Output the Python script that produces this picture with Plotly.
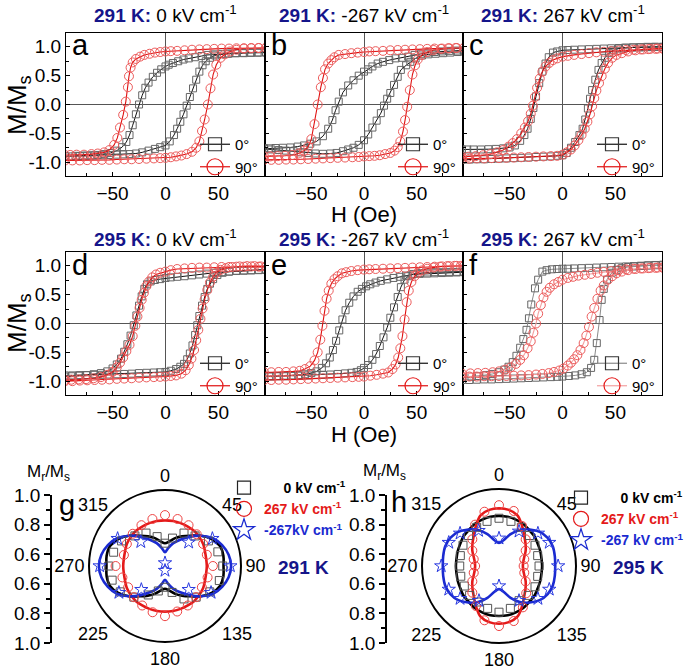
import plotly.graph_objects as go

# ---------------- hysteresis loops: (H [Oe], M/Ms) ----------------
# panel a : 291 K, 0 kV/cm
a_0_down = [(95,0.90),(88,0.90),(81,0.895),(74,0.89),(67,0.89),(60,0.885),(53,0.88),(46,0.87),(40,0.86),(34,0.84),(28,0.82),(22,0.80),(17,0.78),(12,0.75),(7,0.72),(3,0.69),(0,0.66),(-4,0.61),(-8,0.55),(-12,0.48),(-16,0.38),(-19,0.29),(-22,0.16),(-25,0.0),(-28,-0.17),(-31,-0.36),(-34,-0.53),(-37,-0.65),(-41,-0.74),(-46,-0.80),(-52,-0.84),(-58,-0.86),(-64,-0.875),(-71,-0.88),(-78,-0.885),(-85,-0.89),(-95,-0.89)]
a_0_up = [(-95,-0.90),(-88,-0.90),(-81,-0.895),(-74,-0.89),(-67,-0.885),(-60,-0.88),(-53,-0.875),(-46,-0.87),(-40,-0.865),(-34,-0.86),(-28,-0.85),(-22,-0.83),(-16,-0.80),(-10,-0.77),(-5,-0.74),(0,-0.71),(4,-0.64),(8,-0.53),(11,-0.42),(14,-0.30),(17,-0.17),(20,-0.02),(23,0.13),(26,0.28),(29,0.43),(32,0.57),(35,0.68),(38,0.75),(42,0.81),(47,0.85),(53,0.87),(59,0.88),(66,0.89),(73,0.895),(80,0.90),(87,0.90),(95,0.905)]
a_90_down = [(95,0.98),(88,0.98),(81,0.98),(74,0.975),(67,0.975),(60,0.97),(53,0.97),(46,0.965),(39,0.96),(32,0.955),(25,0.95),(18,0.94),(11,0.93),(5,0.925),(0,0.92),(-5,0.91),(-10,0.90),(-15,0.88),(-20,0.86),(-24,0.83),(-28,0.79),(-31,0.73),(-33,0.64),(-34.5,0.49),(-35.5,0.30),(-37.5,0.05),(-40,-0.18),(-43,-0.40),(-45.5,-0.58),(-48.5,-0.70),(-53,-0.79),(-58,-0.83),(-64,-0.85),(-70,-0.86),(-77,-0.87),(-84,-0.87),(-90,-0.875),(-95,-0.875)]
a_90_up = [(-95,-0.97),(-88,-0.97),(-81,-0.97),(-74,-0.965),(-67,-0.965),(-60,-0.96),(-53,-0.96),(-46,-0.955),(-39,-0.95),(-32,-0.95),(-25,-0.945),(-18,-0.94),(-11,-0.935),(-5,-0.93),(0,-0.925),(5,-0.915),(10,-0.90),(15,-0.885),(20,-0.86),(25,-0.82),(29,-0.75),(32,-0.64),(34.5,-0.46),(37,-0.26),(40,0.0),(42.5,0.28),(45,0.52),(48,0.69),(52,0.81),(56,0.87),(61,0.92),(67,0.95),(74,0.97),(81,0.975),(88,0.98),(95,0.985)]

# panel b : 291 K, -267 kV/cm
b_0_down = [(95,0.94),(88,0.935),(81,0.93),(74,0.92),(67,0.91),(60,0.90),(54,0.88),(48,0.86),(42,0.83),(36,0.81),(30,0.80),(24,0.77),(18,0.74),(13,0.71),(8,0.66),(4,0.61),(0,0.57),(-5,0.50),(-10,0.42),(-15,0.33),(-20,0.21),(-24,0.05),(-27,-0.10),(-30,-0.27),(-34,-0.42),(-39,-0.55),(-45,-0.64),(-51,-0.68),(-57,-0.71),(-63,-0.73),(-70,-0.745),(-77,-0.75),(-84,-0.755),(-90,-0.76),(-95,-0.76)]
b_0_up = [(-95,-0.77),(-88,-0.78),(-81,-0.79),(-74,-0.80),(-67,-0.81),(-60,-0.83),(-53,-0.84),(-46,-0.85),(-39,-0.855),(-32,-0.85),(-26,-0.84),(-20,-0.81),(-15,-0.78),(-10,-0.75),(-5,-0.70),(0,-0.62),(4,-0.52),(8,-0.40),(12,-0.28),(16,-0.15),(19,-0.02),(22,0.10),(25,0.20),(28.5,0.34),(32,0.48),(35,0.60),(40,0.68),(44,0.74),(49,0.80),(55,0.85),(61,0.87),(68,0.88),(75,0.89),(82,0.90),(89,0.91),(95,0.92)]
b_90_down = [(95,0.98),(88,0.98),(81,0.975),(74,0.97),(67,0.97),(60,0.965),(53,0.96),(46,0.955),(39,0.95),(32,0.945),(25,0.94),(18,0.93),(11,0.925),(5,0.92),(0,0.91),(-6,0.90),(-12,0.89),(-18,0.875),(-24,0.86),(-28,0.82),(-31,0.77),(-34,0.71),(-37,0.61),(-39,0.46),(-41,0.30),(-44,0.0),(-47,-0.34),(-50,-0.60),(-53,-0.73),(-57,-0.80),(-62,-0.85),(-68,-0.875),(-75,-0.89),(-82,-0.895),(-89,-0.90),(-95,-0.90)]
b_90_up = [(-95,-0.96),(-88,-0.96),(-81,-0.96),(-74,-0.955),(-67,-0.955),(-60,-0.95),(-53,-0.945),(-46,-0.94),(-39,-0.935),(-32,-0.93),(-25,-0.925),(-18,-0.92),(-11,-0.915),(-5,-0.91),(0,-0.90),(5,-0.895),(10,-0.89),(15,-0.88),(20,-0.86),(25,-0.84),(29,-0.80),(32,-0.74),(34.5,-0.64),(37,-0.47),(39,-0.27),(41,-0.04),(43.5,0.25),(46,0.52),(48.5,0.68),(51,0.78),(55,0.86),(60,0.91),(66,0.945),(73,0.965),(80,0.975),(87,0.98),(95,0.98)]

# panel c : 291 K, 267 kV/cm
c_0_down = [(95,1.0),(88,1.0),(81,0.995),(74,0.99),(67,0.99),(60,0.985),(53,0.98),(46,0.975),(39,0.97),(32,0.965),(25,0.96),(18,0.955),(11,0.95),(5,0.945),(0,0.94),(-5,0.92),(-9,0.90),(-13,0.82),(-16,0.71),(-19,0.57),(-22,0.37),(-25,0.14),(-27.5,-0.06),(-30,-0.25),(-33,-0.42),(-36,-0.53),(-40,-0.63),(-45,-0.71),(-50,-0.745),(-56,-0.76),(-63,-0.77),(-70,-0.775),(-77,-0.78),(-84,-0.78),(-90,-0.78),(-95,-0.78)]
c_0_up = [(-95,-0.96),(-88,-0.955),(-81,-0.95),(-74,-0.95),(-67,-0.945),(-60,-0.94),(-53,-0.935),(-46,-0.93),(-39,-0.925),(-32,-0.92),(-25,-0.91),(-18,-0.905),(-11,-0.90),(-5,-0.89),(0,-0.88),(4,-0.84),(8,-0.75),(12,-0.65),(16,-0.53),(19,-0.42),(21.5,-0.26),(24,-0.07),(26,0.10),(28,0.25),(31,0.43),(34,0.60),(37,0.72),(40,0.81),(44,0.89),(48,0.94),(53,0.97),(59,0.985),(66,0.99),(73,0.995),(80,1.0),(87,1.0),(95,1.0)]
c_90_down = [(95,0.97),(88,0.965),(81,0.96),(74,0.955),(67,0.95),(60,0.945),(53,0.935),(46,0.925),(39,0.915),(32,0.905),(25,0.89),(18,0.875),(11,0.86),(5,0.845),(0,0.83),(-5,0.80),(-9,0.77),(-12.5,0.72),(-16,0.66),(-19,0.57),(-21.5,0.45),(-24,0.29),(-26,0.13),(-28,-0.02),(-30,-0.16),(-32.5,-0.29),(-35.5,-0.40),(-39,-0.50),(-43,-0.60),(-47,-0.67),(-51,-0.73),(-56,-0.79),(-62,-0.83),(-68,-0.86),(-75,-0.88),(-82,-0.895),(-89,-0.905),(-95,-0.91)]
c_90_up = [(-95,-0.94),(-88,-0.94),(-81,-0.935),(-74,-0.935),(-67,-0.93),(-60,-0.93),(-53,-0.925),(-46,-0.92),(-39,-0.915),(-32,-0.91),(-25,-0.905),(-18,-0.90),(-11,-0.895),(-5,-0.89),(0,-0.87),(4,-0.83),(8,-0.78),(11.5,-0.71),(15,-0.62),(18,-0.53),(21,-0.42),(23.5,-0.30),(26,-0.17),(28,-0.03),(30,0.11),(32,0.24),(34.5,0.37),(37,0.49),(40,0.62),(43,0.72),(47,0.81),(51,0.86),(56,0.89),(62,0.92),(69,0.94),(76,0.955),(83,0.965),(90,0.97),(95,0.97)]

# panel d : 295 K, 0 kV/cm
d_0_down = [(95,0.93),(88,0.925),(81,0.92),(74,0.915),(67,0.91),(60,0.90),(53,0.89),(46,0.88),(39,0.865),(32,0.85),(25,0.835),(18,0.82),(11,0.81),(5,0.80),(0,0.79),(-5,0.77),(-10,0.755),(-14,0.73),(-17.5,0.68),(-20,0.60),(-22.5,0.47),(-25,0.31),(-27.5,0.14),(-30,-0.03),(-33,-0.21),(-36,-0.36),(-39,-0.49),(-42,-0.61),(-46,-0.71),(-50,-0.78),(-55,-0.83),(-61,-0.86),(-68,-0.88),(-75,-0.895),(-82,-0.905),(-89,-0.915),(-95,-0.92)]
d_0_up = [(-95,-0.90),(-88,-0.90),(-81,-0.895),(-74,-0.895),(-67,-0.89),(-60,-0.89),(-53,-0.885),(-46,-0.88),(-39,-0.875),(-32,-0.87),(-25,-0.86),(-18,-0.855),(-11,-0.85),(-5,-0.845),(0,-0.84),(5,-0.82),(10,-0.79),(14,-0.75),(17.5,-0.70),(20.5,-0.62),(23,-0.52),(25.5,-0.38),(28,-0.20),(30,-0.03),(32,0.13),(34.5,0.31),(37,0.46),(39.5,0.60),(42,0.69),(45,0.77),(49,0.84),(54,0.88),(60,0.90),(67,0.915),(74,0.92),(81,0.925),(88,0.93),(95,0.935)]
d_90_down = [(95,0.98),(88,0.985),(81,0.99),(74,0.985),(67,0.985),(60,0.98),(53,0.98),(46,0.975),(39,0.97),(32,0.97),(25,0.965),(18,0.955),(11,0.945),(5,0.925),(0,0.90),(-5,0.88),(-9,0.85),(-12.5,0.80),(-15.5,0.73),(-18,0.65),(-20.5,0.53),(-22.5,0.41),(-24.5,0.27),(-26.5,0.12),(-28.5,-0.04),(-31,-0.22),(-34,-0.37),(-37,-0.48),(-40,-0.59),(-43,-0.68),(-46,-0.76),(-50,-0.84),(-55,-0.89),(-61,-0.93),(-68,-0.95),(-75,-0.965),(-82,-0.97),(-89,-0.975),(-95,-0.98)]
d_90_up = [(-95,-1.0),(-88,-1.0),(-81,-0.99),(-74,-0.985),(-67,-0.98),(-60,-0.975),(-53,-0.97),(-46,-0.96),(-39,-0.955),(-32,-0.95),(-25,-0.94),(-18,-0.935),(-11,-0.93),(-5,-0.925),(0,-0.92),(5,-0.91),(10,-0.90),(15,-0.87),(19,-0.81),(22,-0.72),(24.5,-0.61),(27,-0.46),(29,-0.29),(31,-0.11),(33,0.08),(35,0.26),(37,0.42),(39.5,0.58),(42,0.71),(45,0.81),(48,0.88),(52,0.93),(57,0.96),(63,0.98),(70,0.99),(77,0.995),(84,0.995),(90,0.99),(95,0.99)]

# panel e : 295 K, -267 kV/cm
e_0_down = [(95,0.89),(88,0.885),(81,0.88),(74,0.875),(67,0.87),(60,0.865),(53,0.86),(46,0.85),(40,0.83),(34,0.81),(28,0.79),(22,0.765),(16,0.74),(11,0.71),(6,0.68),(2,0.645),(-2,0.60),(-6,0.55),(-10,0.47),(-14,0.36),(-17.5,0.23),(-20.5,0.07),(-23.5,-0.12),(-26.5,-0.30),(-29.5,-0.46),(-32.5,-0.59),(-36,-0.69),(-40,-0.77),(-45,-0.83),(-50,-0.86),(-56,-0.88),(-62,-0.895),(-69,-0.90),(-76,-0.905),(-83,-0.91),(-90,-0.91),(-95,-0.91)]
e_0_up = [(-95,-0.92),(-88,-0.92),(-81,-0.915),(-74,-0.915),(-67,-0.91),(-60,-0.905),(-53,-0.90),(-46,-0.895),(-39,-0.89),(-32,-0.885),(-25,-0.875),(-18,-0.865),(-12,-0.855),(-7,-0.84),(-3,-0.81),(0,-0.77),(4,-0.72),(8,-0.63),(11.5,-0.53),(15,-0.39),(18.5,-0.24),(22,-0.07),(25,0.10),(28.5,0.28),(32,0.46),(35,0.63),(38.5,0.76),(42,0.82),(47,0.86),(53,0.875),(60,0.885),(67,0.89),(74,0.89),(81,0.895),(88,0.895),(95,0.90)]
e_90_down = [(95,1.0),(88,1.0),(81,0.995),(74,0.99),(67,0.985),(60,0.98),(53,0.975),(46,0.97),(39,0.965),(32,0.96),(25,0.955),(18,0.95),(11,0.945),(5,0.94),(0,0.935),(-6,0.925),(-12,0.91),(-17,0.89),(-21,0.87),(-25,0.82),(-28,0.77),(-31,0.69),(-33.5,0.57),(-35.5,0.43),(-37.5,0.22),(-39.5,-0.04),(-41.5,-0.28),(-44,-0.50),(-47,-0.64),(-51,-0.74),(-56,-0.79),(-61,-0.82),(-67,-0.83),(-74,-0.84),(-81,-0.84),(-88,-0.845),(-95,-0.845)]
e_90_up = [(-95,-0.98),(-88,-0.98),(-81,-0.975),(-74,-0.975),(-67,-0.97),(-60,-0.965),(-53,-0.96),(-46,-0.955),(-39,-0.95),(-32,-0.945),(-25,-0.94),(-18,-0.935),(-11,-0.93),(-5,-0.925),(0,-0.92),(6,-0.905),(12,-0.89),(18,-0.87),(23,-0.85),(27,-0.79),(30,-0.71),(32.5,-0.59),(34.5,-0.43),(36.5,-0.22),(38.5,0.07),(40.5,0.37),(42.5,0.57),(45,0.72),(48,0.82),(51,0.88),(55,0.92),(60,0.95),(66,0.97),(72,0.985),(79,0.995),(86,1.0),(92,1.0),(95,1.0)]

# panel f : 295 K, 267 kV/cm
f_0_down = [(95,1.02),(88,1.015),(81,1.01),(74,1.0),(67,0.995),(60,0.99),(53,0.985),(46,0.98),(39,0.975),(32,0.97),(25,0.965),(18,0.96),(11,0.955),(5,0.95),(0,0.95),(-5,0.945),(-10,0.94),(-15,0.925),(-19,0.90),(-23,0.76),(-26,0.61),(-29.5,0.33),(-31.7,0.09),(-34,-0.11),(-37,-0.27),(-40,-0.42),(-43.5,-0.56),(-47,-0.67),(-51,-0.75),(-55,-0.80),(-60,-0.845),(-66,-0.875),(-72,-0.895),(-79,-0.91),(-86,-0.925),(-95,-0.94)]
f_0_up = [(-95,-0.98),(-88,-0.98),(-81,-0.975),(-74,-0.97),(-67,-0.97),(-60,-0.965),(-53,-0.96),(-46,-0.955),(-39,-0.95),(-32,-0.945),(-25,-0.94),(-18,-0.935),(-11,-0.93),(-5,-0.925),(0,-0.92),(6,-0.91),(12,-0.90),(18,-0.88),(23,-0.845),(27,-0.77),(30,-0.63),(32.4,-0.34),(35,0.06),(37,0.41),(39,0.60),(42,0.76),(46.5,0.88),(51,0.93),(56,0.96),(62,0.98),(68,0.99),(74,1.0),(80,1.005),(87,1.01),(95,1.01)]
f_90_down = [(95,0.97),(88,0.965),(81,0.96),(74,0.955),(67,0.95),(60,0.94),(53,0.925),(46,0.91),(39,0.895),(33,0.88),(27,0.86),(21,0.845),(15,0.83),(10,0.81),(5,0.79),(0,0.76),(-4,0.72),(-8,0.68),(-12,0.62),(-15,0.55),(-18,0.45),(-20.5,0.32),(-23,0.17),(-25,0.0),(-27.5,-0.16),(-30,-0.31),(-33,-0.43),(-36.5,-0.55),(-40,-0.63),(-44,-0.70),(-49,-0.76),(-54,-0.80),(-60,-0.83),(-66,-0.845),(-73,-0.855),(-80,-0.86),(-87,-0.865),(-95,-0.87)]
f_90_up = [(-95,-0.92),(-88,-0.92),(-81,-0.92),(-74,-0.915),(-67,-0.915),(-60,-0.91),(-53,-0.91),(-46,-0.905),(-39,-0.90),(-32,-0.895),(-25,-0.885),(-19,-0.875),(-13,-0.86),(-8,-0.84),(-3,-0.815),(1,-0.78),(5,-0.73),(8,-0.68),(11,-0.62),(14,-0.55),(17,-0.46),(20,-0.34),(22.5,-0.21),(25,-0.06),(27.5,0.12),(30,0.27),(33,0.43),(36,0.57),(39,0.66),(43,0.76),(47,0.82),(51,0.87),(56,0.90),(62,0.925),(69,0.945),(76,0.955),(83,0.965),(90,0.97),(95,0.97)]

panel_letters = ["a", "b", "c", "d", "e", "f"]
panel_temps = ["291 K:", "291 K:", "291 K:", "295 K:", "295 K:", "295 K:"]
panel_fields = ["0 kV cm<sup>-1</sup>", "-267 kV cm<sup>-1</sup>", "267 kV cm<sup>-1</sup>",
                "0 kV cm<sup>-1</sup>", "-267 kV cm<sup>-1</sup>", "267 kV cm<sup>-1</sup>"]
loops_0 = [(a_0_down, a_0_up), (b_0_down, b_0_up), (c_0_down, c_0_up),
           (d_0_down, d_0_up), (e_0_down, e_0_up), (f_0_down, f_0_up)]
loops_90 = [(a_90_down, a_90_up), (b_90_down, b_90_up), (c_90_down, c_90_up),
            (d_90_down, d_90_up), (e_90_down, e_90_up), (f_90_down, f_90_up)]
x_ticks = [-50, 0, 50]
y_ticks = [-1.0, -0.5, 0.0, 0.5, 1.0]
y_tick_labels = ["-1.0", "-0.5", "0.0", "0.5", "1.0"]

# ---------------- polar plots: remanence ratio Mr/Ms vs angle ----------------
ang15 = [0, 15, 30, 45, 60, 75, 90, 105, 120, 135, 150, 165, 180, 195, 210, 225, 240, 255, 270, 285, 300, 315, 330, 345]
ang10 = [0, 10, 20, 30, 40, 50, 60, 70, 80, 90, 100, 110, 120, 130, 140, 150, 160, 170, 180,
         190, 200, 210, 220, 230, 240, 250, 260, 270, 280, 290, 300, 310, 320, 330, 340, 350, 360]

# g : 291 K
g_0kV_r = [0.65, 0.69, 0.75, 0.78, 0.83, 0.86, 0.88, 0.87, 0.84, 0.79, 0.75, 0.68, 0.64, 0.67, 0.72, 0.79, 0.84, 0.86, 0.87, 0.85, 0.83, 0.78, 0.75, 0.70]
g_p267_r = [0.835, 0.82, 0.81, 0.795, 0.79, 0.785, 0.815, 0.79, 0.78, 0.79, 0.80, 0.81, 0.83, 0.815, 0.80, 0.79, 0.78, 0.79, 0.825, 0.78, 0.79, 0.80, 0.81, 0.82]
g_m267_ang = [0, 45, 60, 90, 120, 135, 180, 225, 240, 270, 300, 315]
g_m267_r = [0.52, 0.72, 0.86, 0.93, 0.85, 0.72, 0.53, 0.72, 0.85, 0.93, 0.86, 0.725]
g_0kV_fit = [0.65, 0.665, 0.695, 0.725, 0.76, 0.81, 0.855, 0.885, 0.89, 0.885, 0.89, 0.885, 0.855, 0.81, 0.76, 0.725, 0.695, 0.665, 0.65,
             0.665, 0.695, 0.725, 0.76, 0.81, 0.855, 0.885, 0.89, 0.885, 0.89, 0.885, 0.855, 0.81, 0.76, 0.725, 0.695, 0.665, 0.65]
g_p267_fit = [0.80, 0.80, 0.80, 0.80, 0.80, 0.795, 0.79, 0.78, 0.775, 0.775, 0.775, 0.78, 0.79, 0.795, 0.80, 0.80, 0.80, 0.80, 0.80,
              0.80, 0.80, 0.80, 0.80, 0.795, 0.79, 0.78, 0.775, 0.775, 0.775, 0.78, 0.79, 0.795, 0.80, 0.80, 0.80, 0.80, 0.80]
g_m267_fit = [0.59, 0.62, 0.66, 0.70, 0.75, 0.81, 0.865, 0.90, 0.925, 0.935, 0.925, 0.90, 0.865, 0.81, 0.75, 0.70, 0.66, 0.62, 0.59,
              0.62, 0.66, 0.70, 0.75, 0.81, 0.865, 0.90, 0.925, 0.935, 0.925, 0.90, 0.865, 0.81, 0.75, 0.70, 0.66, 0.62, 0.59]

# h : 295 K
h_0kV_r = [0.81, 0.80, 0.79, 0.78, 0.77, 0.76, 0.76, 0.76, 0.77, 0.77, 0.76, 0.785, 0.80, 0.785, 0.77, 0.77, 0.76, 0.757, 0.755, 0.76, 0.77, 0.78, 0.79, 0.80]
h_p267_r = [0.895, 0.87, 0.80, 0.745, 0.70, 0.67, 0.66, 0.67, 0.70, 0.75, 0.81, 0.87, 0.89, 0.865, 0.80, 0.745, 0.70, 0.67, 0.655, 0.67, 0.70, 0.745, 0.81, 0.865]
h_m267_ang = [0, 30, 50, 65, 90, 115, 130, 150, 180, 210, 230, 245, 270, 295, 310, 330]
h_m267_r = [0.68, 0.76, 0.83, 0.86, 0.884, 0.86, 0.83, 0.76, 0.63, 0.76, 0.83, 0.86, 0.875, 0.86, 0.83, 0.765]
h_0kV_fit = [0.825, 0.825, 0.82, 0.815, 0.805, 0.80, 0.79, 0.785, 0.78, 0.78, 0.78, 0.785, 0.79, 0.80, 0.805, 0.815, 0.82, 0.825, 0.825,
             0.825, 0.82, 0.815, 0.805, 0.80, 0.79, 0.785, 0.78, 0.78, 0.78, 0.785, 0.79, 0.80, 0.805, 0.815, 0.82, 0.825, 0.825]
h_p267_fit = [0.875, 0.87, 0.85, 0.80, 0.755, 0.725, 0.70, 0.675, 0.66, 0.655, 0.66, 0.675, 0.70, 0.725, 0.755, 0.80, 0.85, 0.87, 0.875,
              0.87, 0.85, 0.80, 0.755, 0.725, 0.70, 0.675, 0.66, 0.655, 0.66, 0.675, 0.70, 0.725, 0.755, 0.80, 0.85, 0.87, 0.875]
h_m267_fit = [0.65, 0.67, 0.72, 0.77, 0.81, 0.845, 0.865, 0.872, 0.868, 0.865, 0.868, 0.872, 0.865, 0.845, 0.81, 0.77, 0.72, 0.67, 0.65,
              0.67, 0.72, 0.77, 0.81, 0.845, 0.865, 0.872, 0.868, 0.865, 0.868, 0.872, 0.865, 0.845, 0.81, 0.77, 0.72, 0.67, 0.65]

angle_ticks = [0, 45, 90, 135, 180, 225, 270, 315]
angle_tick_labels = ["0", "45", "90", "135", "180", "225", "270", "315"]
bar_tickvals = [-0.5, -0.3, -0.1, 0.1, 0.3, 0.5]
bar_ticktext = ["1.0", "0.8", "0.6", "0.6", "0.8", "1.0"]

# ---------------- figure ----------------
W, HT = 685, 667
FONT = "Liberation Sans, Arial, Helvetica, sans-serif"
NAVY = "#15158a"
RED = "#e41a1a"
BLUE = "#1a2ad0"


def fx(px):
    return px / W


def fy(py):
    return 1 - py / HT


cols = [(66, 265), (265, 463), (463, 662)]
rows = [(33, 176), (252, 395)]

fig = go.Figure()
layout = {}
annotations = []

for i in range(6):
    r, c = divmod(i, 3)
    n = i + 1
    xa = "x" if n == 1 else f"x{n}"
    ya = "y" if n == 1 else f"y{n}"
    lg = "legend" if n == 1 else f"legend{n}"
    faint = (i == 5)
    blk_line = "#8a8a8a" if faint else "#111111"
    red_line = "#f3a0a0" if faint else "#e01010"

    dn, up = loops_0[i]
    pts = dn + up
    fig.add_trace(go.Scatter(
        x=[p[0] for p in pts], y=[p[1] for p in pts], mode="lines+markers",
        xaxis=xa, yaxis=ya, showlegend=False, cliponaxis=True,
        line=dict(color=blk_line, width=1),
        marker=dict(symbol="square-open", size=7, color="#666666", line=dict(width=1))))
    dn, up = loops_90[i]
    pts = dn + up
    fig.add_trace(go.Scatter(
        x=[p[0] for p in pts], y=[p[1] for p in pts], mode="lines+markers",
        xaxis=xa, yaxis=ya, showlegend=False, cliponaxis=True,
        line=dict(color=red_line, width=1.1),
        marker=dict(symbol="circle-open", size=9, color="#ec5b5b", line=dict(width=1))))
    # legend entries
    fig.add_trace(go.Scatter(x=[None], y=[None], mode="lines+markers", name="0°",
                             xaxis=xa, yaxis=ya, legend=lg,
                             line=dict(color=blk_line, width=1.2),
                             marker=dict(symbol="square-open", size=13, color="#333333", line=dict(width=1.2))))
    fig.add_trace(go.Scatter(x=[None], y=[None], mode="lines+markers", name="90°",
                             xaxis=xa, yaxis=ya, legend=lg,
                             line=dict(color=red_line, width=1.2),
                             marker=dict(symbol="circle-open", size=16, color=RED, line=dict(width=1.2))))

    x0, x1 = cols[c]
    y0, y1 = rows[r]
    xkey = "xaxis" if n == 1 else f"xaxis{n}"
    ykey = "yaxis" if n == 1 else f"yaxis{n}"
    layout[xkey] = dict(domain=[fx(x0), fx(x1)], anchor=ya, range=[-94, 94], automargin=False,
                        tickmode="array", tickvals=x_ticks, ticks="inside", ticklen=4,
                        tickcolor="black", showline=True, mirror=True, linecolor="black",
                        linewidth=1, showgrid=False, zeroline=True, zerolinecolor="#555555",
                        zerolinewidth=1, tickfont=dict(size=19, color="black"),
                        minor=dict(tickvals=[-75, -25, 25, 75], ticks="inside", ticklen=3, tickcolor="black"))
    layout[ykey] = dict(domain=[fy(y1), fy(y0)], anchor=xa, range=[-1.24, 1.24], automargin=False,
                        tickmode="array", tickvals=y_ticks, ticktext=y_tick_labels,
                        ticks="inside", ticklen=4, tickcolor="black",
                        showticklabels=(c == 0), showline=True, mirror=True,
                        linecolor="black", linewidth=1, showgrid=False, zeroline=True,
                        zerolinecolor="#555555", zerolinewidth=1,
                        tickfont=dict(size=19, color="black"),
                        minor=dict(tickvals=[-0.75, -0.25, 0.25, 0.75], ticks="inside", ticklen=3, tickcolor="black"))
    layout[lg] = dict(x=fx(x1 - 70), y=fy(y1 + 7), xanchor="left", yanchor="bottom",
                      bgcolor="rgba(0,0,0,0)", borderwidth=0, itemwidth=30,
                      font=dict(size=15, color="black", family=FONT), tracegroupgap=0)

    annotations.append(dict(x=fx((x0 + x1) / 2), y=fy(14 if r == 0 else 238), xref="paper", yref="paper",
                            text=f"<span style='color:{NAVY}'><b>{panel_temps[i]}</b></span> {panel_fields[i]}",
                            showarrow=False, font=dict(size=19, color="black"), xanchor="center", yanchor="middle"))
    annotations.append(dict(x=fx(x0 + 4), y=fy((45 if r == 0 else 265)), xref="paper", yref="paper",
                            text=panel_letters[i], showarrow=False, font=dict(size=29, color="black"),
                            xanchor="left", yanchor="middle"))

for yy, yc in [(214, 105), (434, 323)]:
    annotations.append(dict(x=fx(364), y=fy(yy), xref="paper", yref="paper", text="H (Oe)",
                            showarrow=False, font=dict(size=22, color="black"), xanchor="center", yanchor="middle"))
    annotations.append(dict(x=fx(18), y=fy(yc), xref="paper", yref="paper", text="M/M<sub>s</sub>",
                            showarrow=False, textangle=-90, font=dict(size=26, color="black"),
                            xanchor="center", yanchor="middle"))

# ---- polar panels ----
polar_specs = [
    ("polar", (165, 566, 76), "legend7",
     (g_0kV_r, g_p267_r, g_m267_ang, g_m267_r, g_0kV_fit, g_p267_fit, g_m267_fit),
     "-267kV cm<sup>-1</sup>", (224, 472), "g", (57, 505), "291 K", (303, 567), 52, (49, 473)),
    ("polar2", (499, 566, 77), "legend8",
     (h_0kV_r, h_p267_r, h_m267_ang, h_m267_r, h_0kV_fit, h_p267_fit, h_m267_fit),
     "-267 kV cm<sup>-1</sup>", (561, 482), "h", (389, 502), "295 K", (638, 567), 387, (384, 472)),
]

for k, (sp, (cx, cy, rad), lg, dat, m267name, lgpos, letter, letpos, temp, temppos, barx, mrpos) in enumerate(polar_specs):
    r0, rp, am, rm, f0, fp, fm = dat
    fig.add_trace(go.Scatterpolar(r=f0, theta=ang10, subplot=sp, mode="lines", showlegend=False,
                                  line=dict(color="black", width=2.6, shape="spline")))
    fig.add_trace(go.Scatterpolar(r=fp, theta=ang10, subplot=sp, mode="lines", showlegend=False,
                                  line=dict(color=RED, width=2.6, shape="spline")))
    fig.add_trace(go.Scatterpolar(r=fm, theta=ang10, subplot=sp, mode="lines", showlegend=False,
                                  line=dict(color=BLUE, width=2.6, shape="spline")))
    fig.add_trace(go.Scatterpolar(r=r0, theta=ang15, subplot=sp, mode="markers", showlegend=False,
                                  marker=dict(symbol="square-open", size=8, color="#555555", line=dict(width=1))))
    fig.add_trace(go.Scatterpolar(r=rp, theta=ang15, subplot=sp, mode="markers", showlegend=False,
                                  marker=dict(symbol="circle-open", size=9, color="#ee4444", line=dict(width=1))))
    fig.add_trace(go.Scatterpolar(r=rm, theta=am, subplot=sp, mode="markers", showlegend=False,
                                  marker=dict(symbol="star-open", size=10, color="#2a3ae0", line=dict(width=1))))
    # legend entries
    fig.add_trace(go.Scatterpolar(r=[None], theta=[None], subplot=sp, mode="markers", legend=lg,
                                  name="&nbsp;&nbsp;&nbsp;&nbsp;&nbsp;<b>0 kV cm<sup>-1</sup></b>",
                                  marker=dict(symbol="square-open", size=13, color="#222222", line=dict(width=1.2))))
    fig.add_trace(go.Scatterpolar(r=[None], theta=[None], subplot=sp, mode="markers", legend=lg,
                                  name=f"<span style='color:{RED}'><b>267 kV cm<sup>-1</sup></b></span>",
                                  marker=dict(symbol="circle-open", size=15, color=RED, line=dict(width=1.2))))
    fig.add_trace(go.Scatterpolar(r=[None], theta=[None], subplot=sp, mode="markers", legend=lg,
                                  name=f"<span style='color:{BLUE}'><b>{m267name}</b></span>",
                                  marker=dict(symbol="star-open", size=16, color=BLUE, line=dict(width=1.2))))

    layout[sp] = dict(
        domain=dict(x=[fx(cx - rad), fx(cx + rad)], y=[fy(cy + rad), fy(cy - rad)]),
        bgcolor="white",
        radialaxis=dict(range=[0.5, 1.0], visible=False, showgrid=False),
        angularaxis=dict(rotation=90, direction="clockwise", tickmode="array",
                         tickvals=angle_ticks, ticktext=angle_tick_labels, showline=True,
                         linecolor="black", linewidth=2, showgrid=False, ticks="",
                         tickfont=dict(size=18, color="black")))
    layout[lg] = dict(x=fx(lgpos[0]), y=fy(lgpos[1]), xanchor="left", yanchor="top",
                      bgcolor="rgba(0,0,0,0)", itemwidth=30, tracegroupgap=0,
                      font=dict(size=14, color="black", family=FONT))

    # radial scale bar
    n = 7 + k
    fig.add_trace(go.Scatter(x=[None], y=[None], xaxis=f"x{n}", yaxis=f"y{n}", showlegend=False))
    layout[f"xaxis{n}"] = dict(domain=[fx(barx), fx(barx + 1)], anchor=f"y{n}", visible=False,
                               range=[0, 1], automargin=False)
    layout[f"yaxis{n}"] = dict(domain=[fy(643), fy(495)], anchor=f"x{n}", range=[-0.5, 0.5],
                               automargin=False, tickmode="array", tickvals=bar_tickvals, ticktext=bar_ticktext,
                               ticks="outside", ticklen=6, tickwidth=1.5, tickcolor="black",
                               showline=True, linecolor="black", linewidth=1.5, showgrid=False,
                               zeroline=False, tickfont=dict(size=19, color="black"),
                               minor=dict(tickvals=[-0.4, -0.2, 0.0, 0.2, 0.4], ticks="outside",
                                          ticklen=4, tickcolor="black"))
    annotations.append(dict(x=fx(mrpos[0]), y=fy(mrpos[1]), xref="paper", yref="paper",
                            text="M<sub>r</sub>/M<sub>s</sub>", showarrow=False,
                            font=dict(size=17, color="black"), xanchor="center", yanchor="middle"))
    annotations.append(dict(x=fx(letpos[0]), y=fy(letpos[1]), xref="paper", yref="paper",
                            text=letter, showarrow=False, font=dict(size=29, color="black"),
                            xanchor="left", yanchor="middle"))
    annotations.append(dict(x=fx(temppos[0]), y=fy(temppos[1]), xref="paper", yref="paper",
                            text=f"<b>{temp}</b>", showarrow=False, font=dict(size=19, color=NAVY),
                            xanchor="center", yanchor="middle"))

fig.update_layout(template="none")
fig.update_layout(**layout)
fig.update_layout(width=W, height=HT, margin=dict(l=0, r=0, t=0, b=0, autoexpand=False),
                  paper_bgcolor="white", plot_bgcolor="white",
                  font=dict(family=FONT, color="black"),
                  annotations=annotations)

fig.write_html("out.html", config={"displayModeBar": False},
               post_script="document.body.style.margin='0';document.body.style.overflow='hidden';")
